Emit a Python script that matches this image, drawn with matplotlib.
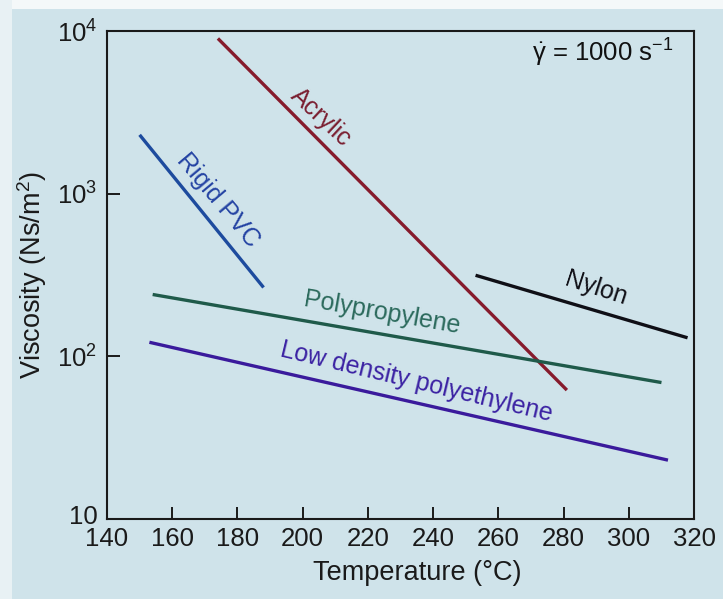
"""Viscosity vs temperature for common polymers at a shear rate of 1000 1/s"""

import matplotlib

matplotlib.use("Agg")
import matplotlib.pyplot as plt
from matplotlib.patches import Rectangle
from matplotlib.transforms import ScaledTranslation

plt.rcParams["font.family"] = ["Liberation Sans", "DejaVu Sans"]
plt.rcParams["mathtext.fontset"] = "custom"
plt.rcParams["mathtext.rm"] = "Liberation Sans"
plt.rcParams["mathtext.it"] = "Liberation Sans:italic"
plt.rcParams["mathtext.bf"] = "Liberation Sans:bold"

# end points of each curve (temperature in C, viscosity in Ns/m^2)
materials = ["Acrylic", "Rigid PVC", "Nylon", "Polypropylene",
             "Low density polyethylene"]
temp_ends = [[174, 281], [150, 188], [253, 318], [154, 310], [153, 312]]
visc_ends = [[9000, 62], [2300, 265], [315, 130], [240, 69], [122, 23]]

x_ticks = [140, 160, 180, 200, 220, 240, 260, 280, 300, 320]
y_ticks = [10, 100, 1000, 10000]
y_tick_labels = ["10", r"$10^2$", r"$10^3$", r"$10^4$"]

line_colors = ["#861b2c", "#1d4b9e", "#0f0f16", "#1f5a4a", "#3a1a9c"]
label_colors = ["#7a1e30", "#2443a3", "#111118", "#2b6a5c", "#3b22a3"]
# label placement (temperature, viscosity, rotation)
label_pos = [(205.6, 2950, -43), (174, 910, -50), (290, 263, -18),
             (224.3, 185, -10), (234.8, 69.5, -13.5)]

bg = "#cfe3ea"
fig = plt.figure(figsize=(7.23, 5.99), dpi=100, facecolor=bg)
# pale strips along the top and left edge of the scan
fig.patches.append(Rectangle((0, 0.985), 1, 0.015, transform=fig.transFigure,
                             facecolor="#f4f8f9", edgecolor="none", zorder=0))
fig.patches.append(Rectangle((0, 0), 0.016, 1, transform=fig.transFigure,
                             facecolor="#e8f1f4", edgecolor="none", zorder=0))

ax = fig.add_axes([0.148, 0.1336, 0.812, 0.8146])
ax.set_facecolor("none")
ax.set_yscale("log")

for i, name in enumerate(materials):
    ax.plot(temp_ends[i], visc_ends[i], color=line_colors[i], lw=2.4,
            solid_capstyle="butt")
    tx, ty, rot = label_pos[i]
    ax.text(tx, ty, name, color=label_colors[i], fontsize=18, rotation=rot,
            ha="center", va="center", rotation_mode="anchor")

ax.text(0.845, 0.955, r"$\dot{\mathrm{\gamma}}$ = 1000 s$^{-1}$",
        transform=ax.transAxes, fontsize=18.5, ha="center", va="center",
        color="#111111")

ax.set_xlim(140, 320)
ax.set_ylim(10, 10000)
ax.set_xticks(x_ticks)
ax.set_xticklabels([str(t) for t in x_ticks])
ax.set_yticks(y_ticks)
ax.set_yticklabels(y_tick_labels)
ax.minorticks_off()

ax.tick_params(axis="both", direction="in", length=9, width=1.4,
               labelsize=18.5, colors="#1a1a1a")
ax.tick_params(axis="x", pad=6)
ax.tick_params(axis="y", pad=7)
for spine in ax.spines.values():
    spine.set_linewidth(1.5)
    spine.set_color("#1a1a1a")

# the "10" at the bottom sits a little above the x tick labels
lbl10 = ax.get_yticklabels()[0]
lbl10.set_transform(lbl10.get_transform()
                    + ScaledTranslation(0, 3 / 72, fig.dpi_scale_trans))

ax.set_xlabel("Temperature (°C)", fontsize=19.5, color="#1a1a1a")
ax.xaxis.set_label_coords(0.528, -0.085)
ax.set_ylabel("Viscosity (Ns/m$^2$)", fontsize=19.5, color="#1a1a1a",
              labelpad=6)

fig.savefig("out.png", dpi=100, facecolor=bg)
